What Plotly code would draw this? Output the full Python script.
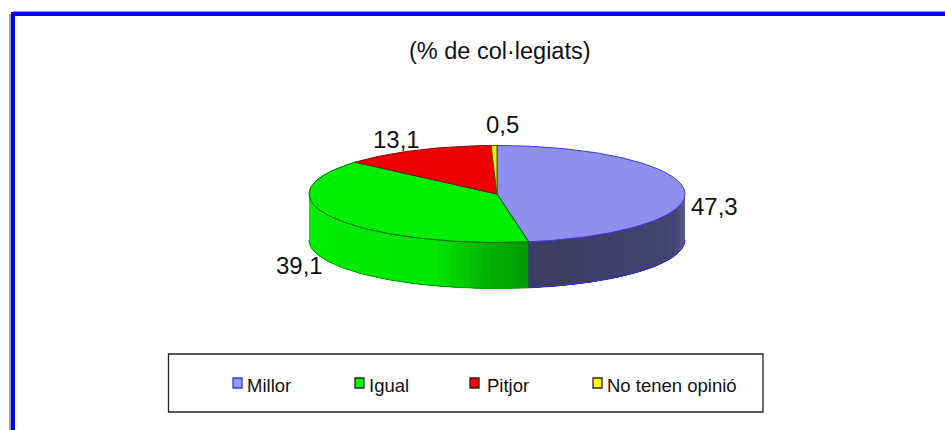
import numpy as np
import plotly.graph_objects as go

categories = ["Millor", "Igual", "Pitjor", "No tenen opinió"]
values = [47.3, 39.1, 13.1, 0.5]
value_labels = ["47,3", "39,1", "13,1", "0,5"]
title_text = "(% de col·legiats)"

top_colors = ["#8f8fee", "#00ee00", "#ee0000", "#eeee00"]
edge_colors = ["#3a3af0", "#0a5a0a", "#7a1010", "#555500"]
legend_fill = ["#9999ff", "#00ff00", "#ff0000", "#ffff00"]
legend_edge = ["#3333ff", "#222222", "#222222", "#222222"]
side_stops = [
    [(0.0, (0x66, 0x66, 0x9a)), (0.25, (0x44, 0x44, 0x72)), (1.0, (0x3c, 0x3c, 0x64))],
    [(0.0, (0x00, 0x9a, 0x00)), (0.12, (0x00, 0xb0, 0x00)), (0.3, (0x00, 0xe8, 0x00)), (1.0, (0x00, 0xee, 0x00))],
]

CX, CY, RX, RY, DEPTH = 497, 194, 188, 48.5, 46
FONT = "Liberation Sans, Arial, sans-serif"


def pt(a):
    # angle measured clockwise from the top of the ellipse; y grows downward
    return CX + RX * np.sin(a), CY - RY * np.cos(a)


def mix(stops, t):
    for (t0, c0), (t1, c1) in zip(stops, stops[1:]):
        if t <= t1:
            f = (t - t0) / (t1 - t0)
            return "rgb(%d,%d,%d)" % tuple(round(a + (b - a) * f) for a, b in zip(c0, c1))
    return "rgb(%d,%d,%d)" % stops[-1][1]


cum = np.concatenate([[0], np.cumsum(values)]) / sum(values) * 2 * np.pi
fig = go.Figure()

# Visible side wall (front half of the ellipse): overlapping strips, painted in order, so no seams
for i in range(len(values)):
    a0, a1 = max(cum[i], np.pi / 2), min(cum[i + 1], 3 * np.pi / 2)
    if a1 <= a0:
        continue
    n = 50
    edges = np.linspace(a0, a1, n + 1)
    for k in range(n):
        seg = np.linspace(edges[k], a1, 2 + (n - k) * 2)
        xs, ys = pt(seg)
        px = list(xs) + list(xs[::-1]) + [xs[0]]
        py = list(ys) + list(ys[::-1] + DEPTH) + [ys[0]]
        c = mix(side_stops[i], (k + 0.5) / n)
        fig.add_trace(go.Scatter(x=px, y=py, mode="lines", fill="toself", fillcolor=c,
                                 line=dict(width=0), hoverinfo="skip", showlegend=False))
    # bottom rim
    seg = np.linspace(a0, a1, 80)
    xs, ys = pt(seg)
    fig.add_trace(go.Scatter(x=xs, y=ys + DEPTH, mode="lines", hoverinfo="skip", showlegend=False,
                             line=dict(color="#3030e0" if i == 0 else "#00a000", width=1)))

# Top face slices
for i, cat in enumerate(categories):
    seg = np.linspace(cum[i], cum[i + 1], max(4, int(values[i] * 4)))
    xs, ys = pt(seg)
    px = [CX] + list(xs) + [CX]
    py = [CY] + list(ys) + [CY]
    fig.add_trace(go.Scatter(x=px, y=py, mode="lines", fill="toself", fillcolor=top_colors[i],
                             line=dict(color=edge_colors[i], width=1), name=cat,
                             text=[f"{cat}: {value_labels[i]}"] * len(px), hoverinfo="text",
                             showlegend=False))

# Seam at the front where the two side slices meet
sx, sy = pt(cum[1])
fig.add_trace(go.Scatter(x=[sx, sx], y=[sy, sy + DEPTH], mode="lines", hoverinfo="skip", showlegend=False,
                         line=dict(color="#2a4a5a", width=1)))

shapes = [
    dict(type="rect", x0=9, x1=11, y0=14, y1=430, fillcolor="#9c9cc4", line_width=0),
    dict(type="rect", x0=13, x1=945, y0=11, y1=12, fillcolor="#9c9cc4", line_width=0),
    dict(type="rect", x0=11, x1=15, y0=12, y1=430, fillcolor="#0000ff", line_width=0),
    dict(type="rect", x0=11, x1=945, y0=12, y1=16, fillcolor="#0000ff", line_width=0),
    dict(type="rect", x0=168.5, x1=763, y0=354, y1=412, fillcolor="white",
         line=dict(color="#222222", width=1.3), layer="below"),
]
annotations = [
    dict(x=499.5, y=51, text=title_text, showarrow=False, xanchor="center", yanchor="middle",
         font=dict(family=FONT, size=23.5, color="#111111")),
]
label_pos = [(714, 206.5), (299, 265), (396, 139), (502, 124)]
for (lx, ly), t in zip(label_pos, value_labels):
    annotations.append(dict(x=lx, y=ly, text=t, showarrow=False, xanchor="center", yanchor="middle",
                            font=dict(family=FONT, size=24, color="#111111")))

swatch_x = [233, 355, 470, 593]
text_x = [247, 369, 487, 607]
for i, cat in enumerate(categories):
    shapes.append(dict(type="rect", x0=swatch_x[i], x1=swatch_x[i] + 9, y0=378, y1=388,
                       fillcolor=legend_fill[i], line=dict(color=legend_edge[i], width=1.3)))
    annotations.append(dict(x=text_x[i], y=385.5, text=cat, showarrow=False, xanchor="left", yanchor="middle",
                            xshift=-2, font=dict(family=FONT, size=18.5, color="#111111")))

fig.update_layout(
    width=945, height=430, margin=dict(l=0, r=0, t=0, b=0),
    paper_bgcolor="white", plot_bgcolor="white", showlegend=False,
    xaxis=dict(range=[0, 945], visible=False, fixedrange=True),
    yaxis=dict(range=[430, 0], visible=False, fixedrange=True),
    shapes=shapes, annotations=annotations,
)
fig.write_html("out.html", config=dict(displayModeBar=False),
               post_script="document.body.style.margin='0';document.body.style.overflow='hidden';")
